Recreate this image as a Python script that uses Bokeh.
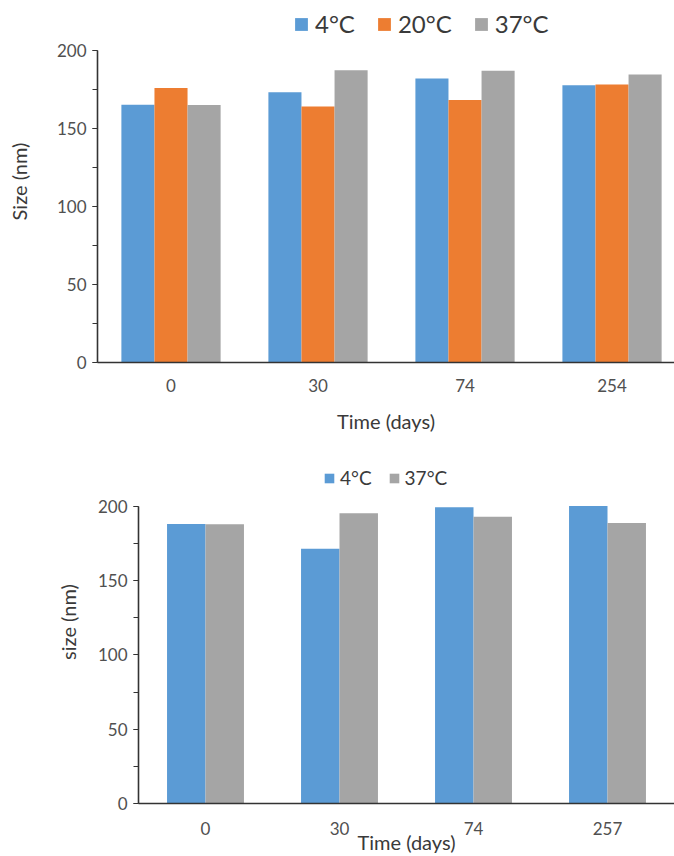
from bokeh.plotting import figure
from bokeh.layouts import column
from bokeh.models import Legend, LegendItem, FixedTicker, SingleIntervalTicker, Range1d
from bokeh.embed import file_html
from bokeh.resources import INLINE

# ---- data: top chart ----
days_top = ["0", "30", "74", "254"]
size_4C_top = [165.2, 173.3, 182.0, 177.8]
size_20C_top = [176.0, 164.1, 168.2, 178.2]
size_37C_top = [165.0, 187.4, 187.0, 184.6]

# ---- data: bottom chart ----
days_bottom = ["0", "30", "74", "257"]
size_4C_bottom = [188.1, 171.4, 199.3, 200.2]
size_37C_bottom = [188.0, 195.3, 193.0, 188.8]

y_ticks = [0, 50, 100, 150, 200]

BLUE = "#5B9BD5"
ORANGE = "#ED7D31"
GRAY = "#A5A5A5"
FONT = "Lato"
TICK_COLOR = "#505050"
TITLE_COLOR = "#3a3a3a"
AXIS_COLOR = "#333333"


def style(p, cats, ylabel, tick_fs, lab_fs, xlab_standoff, ylab_standoff, xtick_standoff):
    p.frame_align = False
    p.xgrid.visible = False
    p.ygrid.visible = False
    p.outline_line_color = None
    p.background_fill_color = "white"
    p.border_fill_color = "white"
    # x axis
    xa = p.xaxis[0]
    xa.ticker = FixedTicker(ticks=[i + 0.5 for i in range(len(cats))])
    xa.major_label_overrides = {i + 0.5: c for i, c in enumerate(cats)}
    xa.major_tick_line_color = None
    xa.minor_tick_line_color = None
    xa.axis_line_color = AXIS_COLOR
    xa.axis_line_width = 1.6
    xa.major_label_text_font = FONT
    xa.major_label_text_font_size = f"{tick_fs}px"
    xa.major_label_text_color = TICK_COLOR
    xa.major_label_standoff = xtick_standoff
    xa.axis_label = "Time (days)"
    xa.axis_label_text_font = FONT
    xa.axis_label_text_font_style = "normal"
    xa.axis_label_text_font_size = f"{lab_fs}px"
    xa.axis_label_text_color = TITLE_COLOR
    xa.axis_label_standoff = xlab_standoff
    # y axis (limited to the data span so the legend can sit above it)
    ya = p.yaxis[0]
    ya.bounds = (y_ticks[0], y_ticks[-1])
    ya.ticker = SingleIntervalTicker(interval=y_ticks[1] - y_ticks[0], num_minor_ticks=2)
    ya.axis_line_color = AXIS_COLOR
    ya.axis_line_width = 1.6
    ya.major_tick_line_color = AXIS_COLOR
    ya.minor_tick_line_color = AXIS_COLOR
    ya.major_tick_in = 0
    ya.major_tick_out = 5
    ya.minor_tick_in = 0
    ya.minor_tick_out = 5
    ya.major_label_text_font = FONT
    ya.major_label_text_font_size = f"{tick_fs}px"
    ya.major_label_text_color = TICK_COLOR
    ya.major_label_standoff = 6
    ya.axis_label = ylabel
    ya.axis_label_text_font = FONT
    ya.axis_label_text_font_style = "normal"
    ya.axis_label_text_font_size = f"{lab_fs}px"
    ya.axis_label_text_color = TITLE_COLOR
    ya.axis_label_standoff = ylab_standoff


# ---------------- top figure ----------------
# frame: top at 0 px, value 200 at 50 px, value 0 at 362 px
y1_end = 200 + 50 * 200 / 312
p1 = figure(width=674, height=440, output_backend="svg", toolbar_location=None,
            x_range=Range1d(0, 3.925), y_range=Range1d(y_ticks[0], y1_end),
            min_border_left=97, min_border_right=0, min_border_top=0, min_border_bottom=78)
style(p1, days_top, "Size (nm)", 17, 20, 14, 23, 10)

w1 = 0.225
series_top = [(size_4C_top, BLUE, "4°C", -w1), (size_20C_top, ORANGE, "20°C", 0.0),
              (size_37C_top, GRAY, "37°C", w1)]
items1 = []
for vals, col, lab, off in series_top:
    r = p1.vbar(x=[i + 0.5 + off for i in range(len(vals))], top=vals, bottom=0,
                width=w1, fill_color=col, line_color=None)
    items1.append(LegendItem(label=lab, renderers=[r]))

leg1 = Legend(items=items1, orientation="horizontal", location=(196, 324),
              glyph_width=16, glyph_height=16, label_standoff=6, spacing=21,
              padding=0, margin=0, border_line_color=None, background_fill_alpha=0,
              label_text_font=FONT, label_text_font_size="24px", label_text_color=TITLE_COLOR)
p1.add_layout(leg1, "center")

# ---------------- bottom figure ----------------
# frame: top at 0 px, value 200 at 66 px, value 0 at 364 px
y2_end = 200 + 66 * 200 / 298
p2 = figure(width=674, height=416, output_backend="svg", toolbar_location=None,
            x_range=Range1d(0, 4), y_range=Range1d(y_ticks[0], y2_end),
            min_border_left=138, min_border_right=0, min_border_top=0, min_border_bottom=52)
style(p2, days_bottom, "size (nm)", 17, 20, -8, 15, 12)

w2 = 0.287
series_bottom = [(size_4C_bottom, BLUE, "4°C", -w2 / 2), (size_37C_bottom, GRAY, "37°C", w2 / 2)]
items2 = []
for vals, col, lab, off in series_bottom:
    r = p2.vbar(x=[i + 0.5 + off for i in range(len(vals))], top=vals, bottom=0,
                width=w2, fill_color=col, line_color=None)
    items2.append(LegendItem(label=lab, renderers=[r]))

leg2 = Legend(items=items2, orientation="horizontal", location=(185, 314),
              glyph_width=12, glyph_height=12, label_standoff=5, spacing=16,
              padding=0, margin=0, border_line_color=None, background_fill_alpha=0,
              label_text_font=FONT, label_text_font_size="19px", label_text_color=TITLE_COLOR)
p2.add_layout(leg2, "center")

layout = column(p1, p2, spacing=0)
open("out.html", "w").write(file_html(layout, INLINE))
